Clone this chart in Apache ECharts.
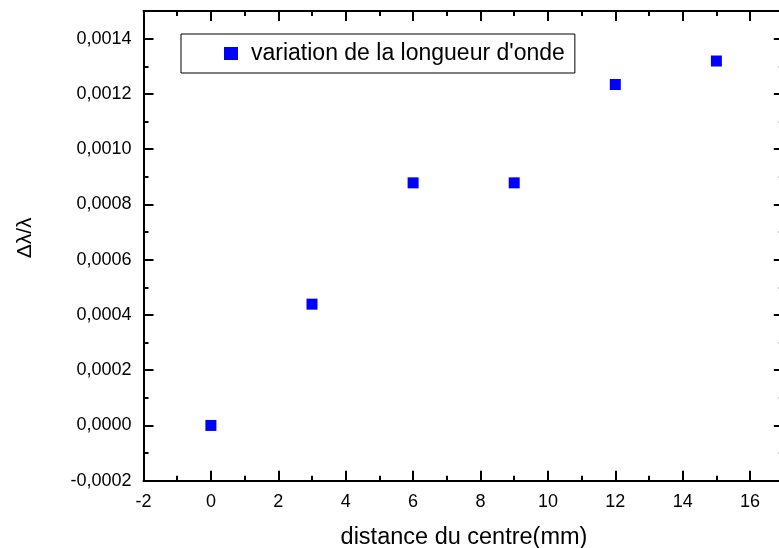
<!DOCTYPE html>
<html>
<head>
<meta charset="utf-8">
<script src="https://cdn.jsdelivr.net/npm/echarts@6/dist/echarts.min.js"></script>
<style>
  html, body { margin: 0; padding: 0; background: #fff; }
  #chart { width: 779px; height: 548px; }
</style>
</head>
<body>
<div id="chart"></div>
<script>
// distance du centre (mm) et variation relative de la longueur d'onde
const distances = [0, 3, 6, 9, 12, 15];
const variations = [0.0, 0.000439, 0.000878, 0.000878, 0.001234, 0.001319];
const seriesName = "variation de la longueur d'onde";

const font = '"Liberation Sans", Arial, sans-serif';
// graduations à 0,0002 : on masque l'étiquette du max (0,0015)
const fmtY = v => {
  const k = Math.round(v / 0.0002);
  if (Math.abs(k * 0.0002 - v) > 1e-9) return '';
  return v.toFixed(4).replace('.', ',').replace('-0,0000', '0,0000');
};

const chart = echarts.init(document.getElementById('chart'));

const axisCommon = {
  axisLine: { onZero: false, lineStyle: { color: '#000', width: 2 } },
  axisTick: { inside: true, length: 10, lineStyle: { color: '#000', width: 2 } },
  minorTick: { show: true, splitNumber: 2, length: 5, lineStyle: { color: '#000', width: 2 } },
  splitLine: { show: false }
};

chart.setOption({
  animation: false,
  grid: { left: 143.5, top: 11, width: 674, height: 469.7, outerBoundsMode: 'none', containLabel: false },
  legend: {
    left: 181,
    top: 34,
    padding: [8, 10, 8, 43],
    itemWidth: 14,
    itemHeight: 13,
    itemGap: 10,
    borderColor: '#000',
    borderWidth: 1,
    textStyle: { fontFamily: font, fontSize: 23, color: '#000', padding: [0, 0, 0, 8] },
    data: [{ name: seriesName, icon: 'rect' }]
  },
  xAxis: [
    {
      ...axisCommon,
      type: 'value',
      min: -2,
      max: 18,
      interval: 2,
      name: 'distance du centre(mm)',
      nameLocation: 'middle',
      nameGap: 45,
      nameTextStyle: { fontFamily: font, fontSize: 23.5, color: '#000', padding: [0, 33, 0, 0] },
      axisLabel: { fontFamily: font, fontSize: 18, color: '#000', margin: 12 }
    },
    {
      ...axisCommon,
      type: 'value',
      position: 'top',
      min: -2,
      max: 18,
      interval: 2,
      axisLabel: { show: false }
    }
  ],
  yAxis: [
    {
      ...axisCommon,
      type: 'value',
      min: -0.0002,
      max: 0.0015,
      interval: 0.0002,
      name: 'Δλ/λ',
      nameLocation: 'middle',
      nameGap: 108,
      nameTextStyle: { fontFamily: font, fontSize: 21, color: '#000', padding: [0, 0, 0, 16] },
      axisLabel: { fontFamily: font, fontSize: 18, color: '#000', margin: 12, formatter: fmtY }
    },
    {
      ...axisCommon,
      type: 'value',
      position: 'right',
      offset: -33.7,
      min: -0.0002,
      max: 0.0015,
      interval: 0.0002,
      axisLabel: { show: false }
    }
  ],
  series: [
    {
      name: seriesName,
      type: 'scatter',
      symbol: 'rect',
      symbolSize: 11,
      itemStyle: { color: '#0000ff', opacity: 1 },
      data: distances.map((d, i) => [d, variations[i]])
    }
  ]
});
</script>
</body>
</html>
